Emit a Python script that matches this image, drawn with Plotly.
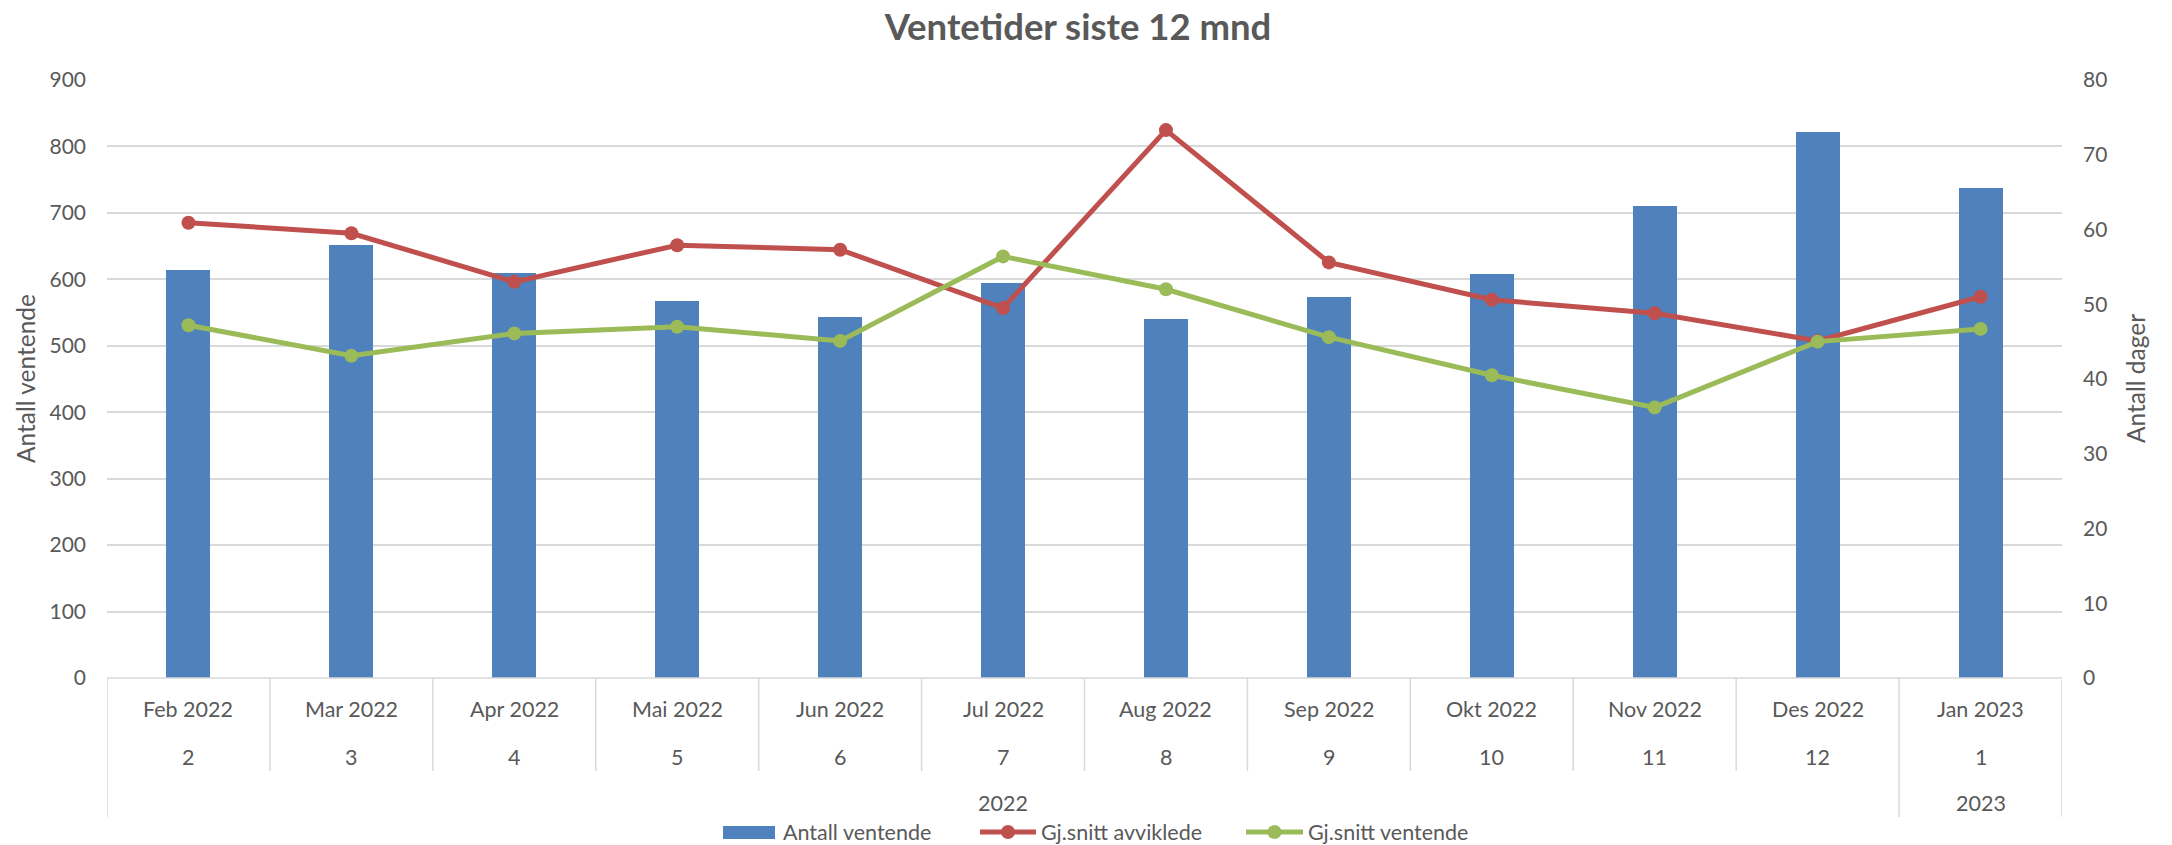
import plotly.graph_objects as go

# ---- data ----
months = ["Feb 2022", "Mar 2022", "Apr 2022", "Mai 2022", "Jun 2022", "Jul 2022",
          "Aug 2022", "Sep 2022", "Okt 2022", "Nov 2022", "Des 2022", "Jan 2023"]
month_nums = ["2", "3", "4", "5", "6", "7", "8", "9", "10", "11", "12", "1"]
years = ["2022", "2022", "2022", "2022", "2022", "2022",
         "2022", "2022", "2022", "2022", "2022", "2023"]
antall_ventende = [614, 651, 609, 567, 543, 595, 541, 573, 608, 711, 821, 738]
gj_avviklede = [60.9, 59.5, 53.0, 57.9, 57.3, 49.5, 73.3, 55.6, 50.6, 48.8, 45.1, 51.0]
gj_ventende = [47.2, 43.1, 46.1, 47.0, 45.1, 56.4, 52.0, 45.6, 40.5, 36.2, 45.0, 46.7]
series_names = ["Antall ventende", "Gj.snitt avviklede", "Gj.snitt ventende"]

# ---- style ----
FONT = "Lato"
TXT = "#595959"
GRID = "#D9D9D9"
C_BAR, C_RED, C_GREEN = "#4F81BD", "#C0504D", "#9BBB59"
W, H = 2172, 845
ML, MR, MT, MB = 107, 110, 80, 167
PW = W - ML - MR
PH = H - MT - MB
CAT_SIZE = 21.5
TICK_SIZE = 21


def py(px):  # pixel y -> paper y
    return (H - MB - px) / PH


def pxx(px):  # pixel x -> paper x
    return (px - ML) / PW


idx = list(range(len(months)))

fig = go.Figure()
fig.add_trace(go.Bar(x=idx, y=antall_ventende, name=series_names[0],
                     marker=dict(color=C_BAR, line=dict(width=0)), width=0.27))
fig.add_trace(go.Scatter(x=idx, y=gj_avviklede, name=series_names[1], yaxis="y2",
                         mode="lines+markers", line=dict(color=C_RED, width=5),
                         marker=dict(size=14, color=C_RED)))
fig.add_trace(go.Scatter(x=idx, y=gj_ventende, name=series_names[2], yaxis="y2",
                         mode="lines+markers", line=dict(color=C_GREEN, width=5),
                         marker=dict(size=14, color=C_GREEN)))

annotations = []
shapes = []
cat_font = dict(size=CAT_SIZE, color=TXT, family=FONT)
for i in idx:
    annotations.append(dict(x=i, y=py(709), xref="x", yref="paper", text=months[i],
                            xanchor="center", yanchor="middle", showarrow=False, font=cat_font))
    annotations.append(dict(x=i, y=py(757), xref="x", yref="paper", text=month_nums[i],
                            xanchor="center", yanchor="middle", showarrow=False, font=cat_font))

# year groups
groups = []
start = 0
for i in range(1, len(years) + 1):
    if i == len(years) or years[i] != years[start]:
        groups.append((start, i - 1, years[start]))
        start = i
long_bounds = set()
for s, e, yr in groups:
    annotations.append(dict(x=(s + e) / 2, y=py(803), xref="x", yref="paper", text=yr,
                            xanchor="center", yanchor="middle", showarrow=False, font=cat_font))
    long_bounds.add(s - 0.5)
    long_bounds.add(e + 0.5)

for i in range(len(months) + 1):
    b = i - 0.5
    bottom = py(817) if b in long_bounds else py(771)
    shapes.append(dict(type="line", xref="x", yref="paper", x0=b, x1=b, y0=0, y1=bottom,
                       line=dict(color=GRID, width=1.5)))
shapes.append(dict(type="line", xref="paper", yref="paper", x0=0, x1=1, y0=0, y1=0,
                   line=dict(color=GRID, width=1.5)))

# axis titles
annotations.append(dict(x=pxx(25), y=0.5, xref="paper", yref="paper", text="Antall ventende",
                        textangle=-90, showarrow=False, xanchor="center", yanchor="middle",
                        font=dict(size=24.5, color=TXT, family=FONT)))
annotations.append(dict(x=pxx(2135), y=0.5, xref="paper", yref="paper", text="Antall dager",
                        textangle=-90, showarrow=False, xanchor="center", yanchor="middle",
                        font=dict(size=24.5, color=TXT, family=FONT)))

# custom legend (Excel style)
LY = 832
shapes.append(dict(type="rect", xref="paper", yref="paper", x0=pxx(723), x1=pxx(775),
                   y0=py(839), y1=py(826), fillcolor=C_BAR, line=dict(width=0)))
for (x0, x1), col in [((980, 1036), C_RED), ((1246, 1303), C_GREEN)]:
    shapes.append(dict(type="line", xref="paper", yref="paper", x0=pxx(x0), x1=pxx(x1),
                       y0=py(LY), y1=py(LY), line=dict(color=col, width=5)))
    cx = (x0 + x1) / 2
    shapes.append(dict(type="circle", xref="paper", yref="paper", x0=pxx(cx - 7), x1=pxx(cx + 7),
                       y0=py(LY + 7), y1=py(LY - 7), fillcolor=col, line=dict(width=0)))
for name, tx in zip(series_names, [781, 1039, 1306]):
    annotations.append(dict(x=pxx(tx), y=py(LY), xref="paper", yref="paper", text=name,
                            xanchor="left", yanchor="middle", showarrow=False, font=cat_font))

fig.update_layout(
    width=W, height=H,
    margin=dict(l=ML, r=MR, t=MT, b=MB, autoexpand=False),
    plot_bgcolor="white", paper_bgcolor="white",
    font=dict(family=FONT, color=TXT, size=TICK_SIZE),
    title=dict(text="<b>Ventetider siste 12 mnd</b>", x=1078 / W, xanchor="center",
               y=1 - 27 / H, yanchor="middle", yref="container",
               font=dict(size=36.5, color=TXT, family=FONT)),
    xaxis=dict(range=[-0.5, len(months) - 0.5], showticklabels=False, showgrid=False,
               zeroline=False, showline=False, fixedrange=True),
    yaxis=dict(range=[0, 900], dtick=100, showgrid=True, gridcolor=GRID, gridwidth=1.5,
               zeroline=False, showline=False, ticks="", ticklabelstandoff=20,
               tickfont=dict(size=TICK_SIZE, color=TXT, family=FONT)),
    yaxis2=dict(range=[0, 80], dtick=10, overlaying="y", side="right", showgrid=False,
                zeroline=False, showline=False, ticks="", ticklabelstandoff=20,
                tickfont=dict(size=TICK_SIZE, color=TXT, family=FONT)),
    annotations=annotations,
    shapes=shapes,
    showlegend=False,
    bargap=0,
)

fig.write_html("out.html", config={"displayModeBar": False},
               post_script="document.body.style.margin='0';document.body.style.overflow='hidden';")
